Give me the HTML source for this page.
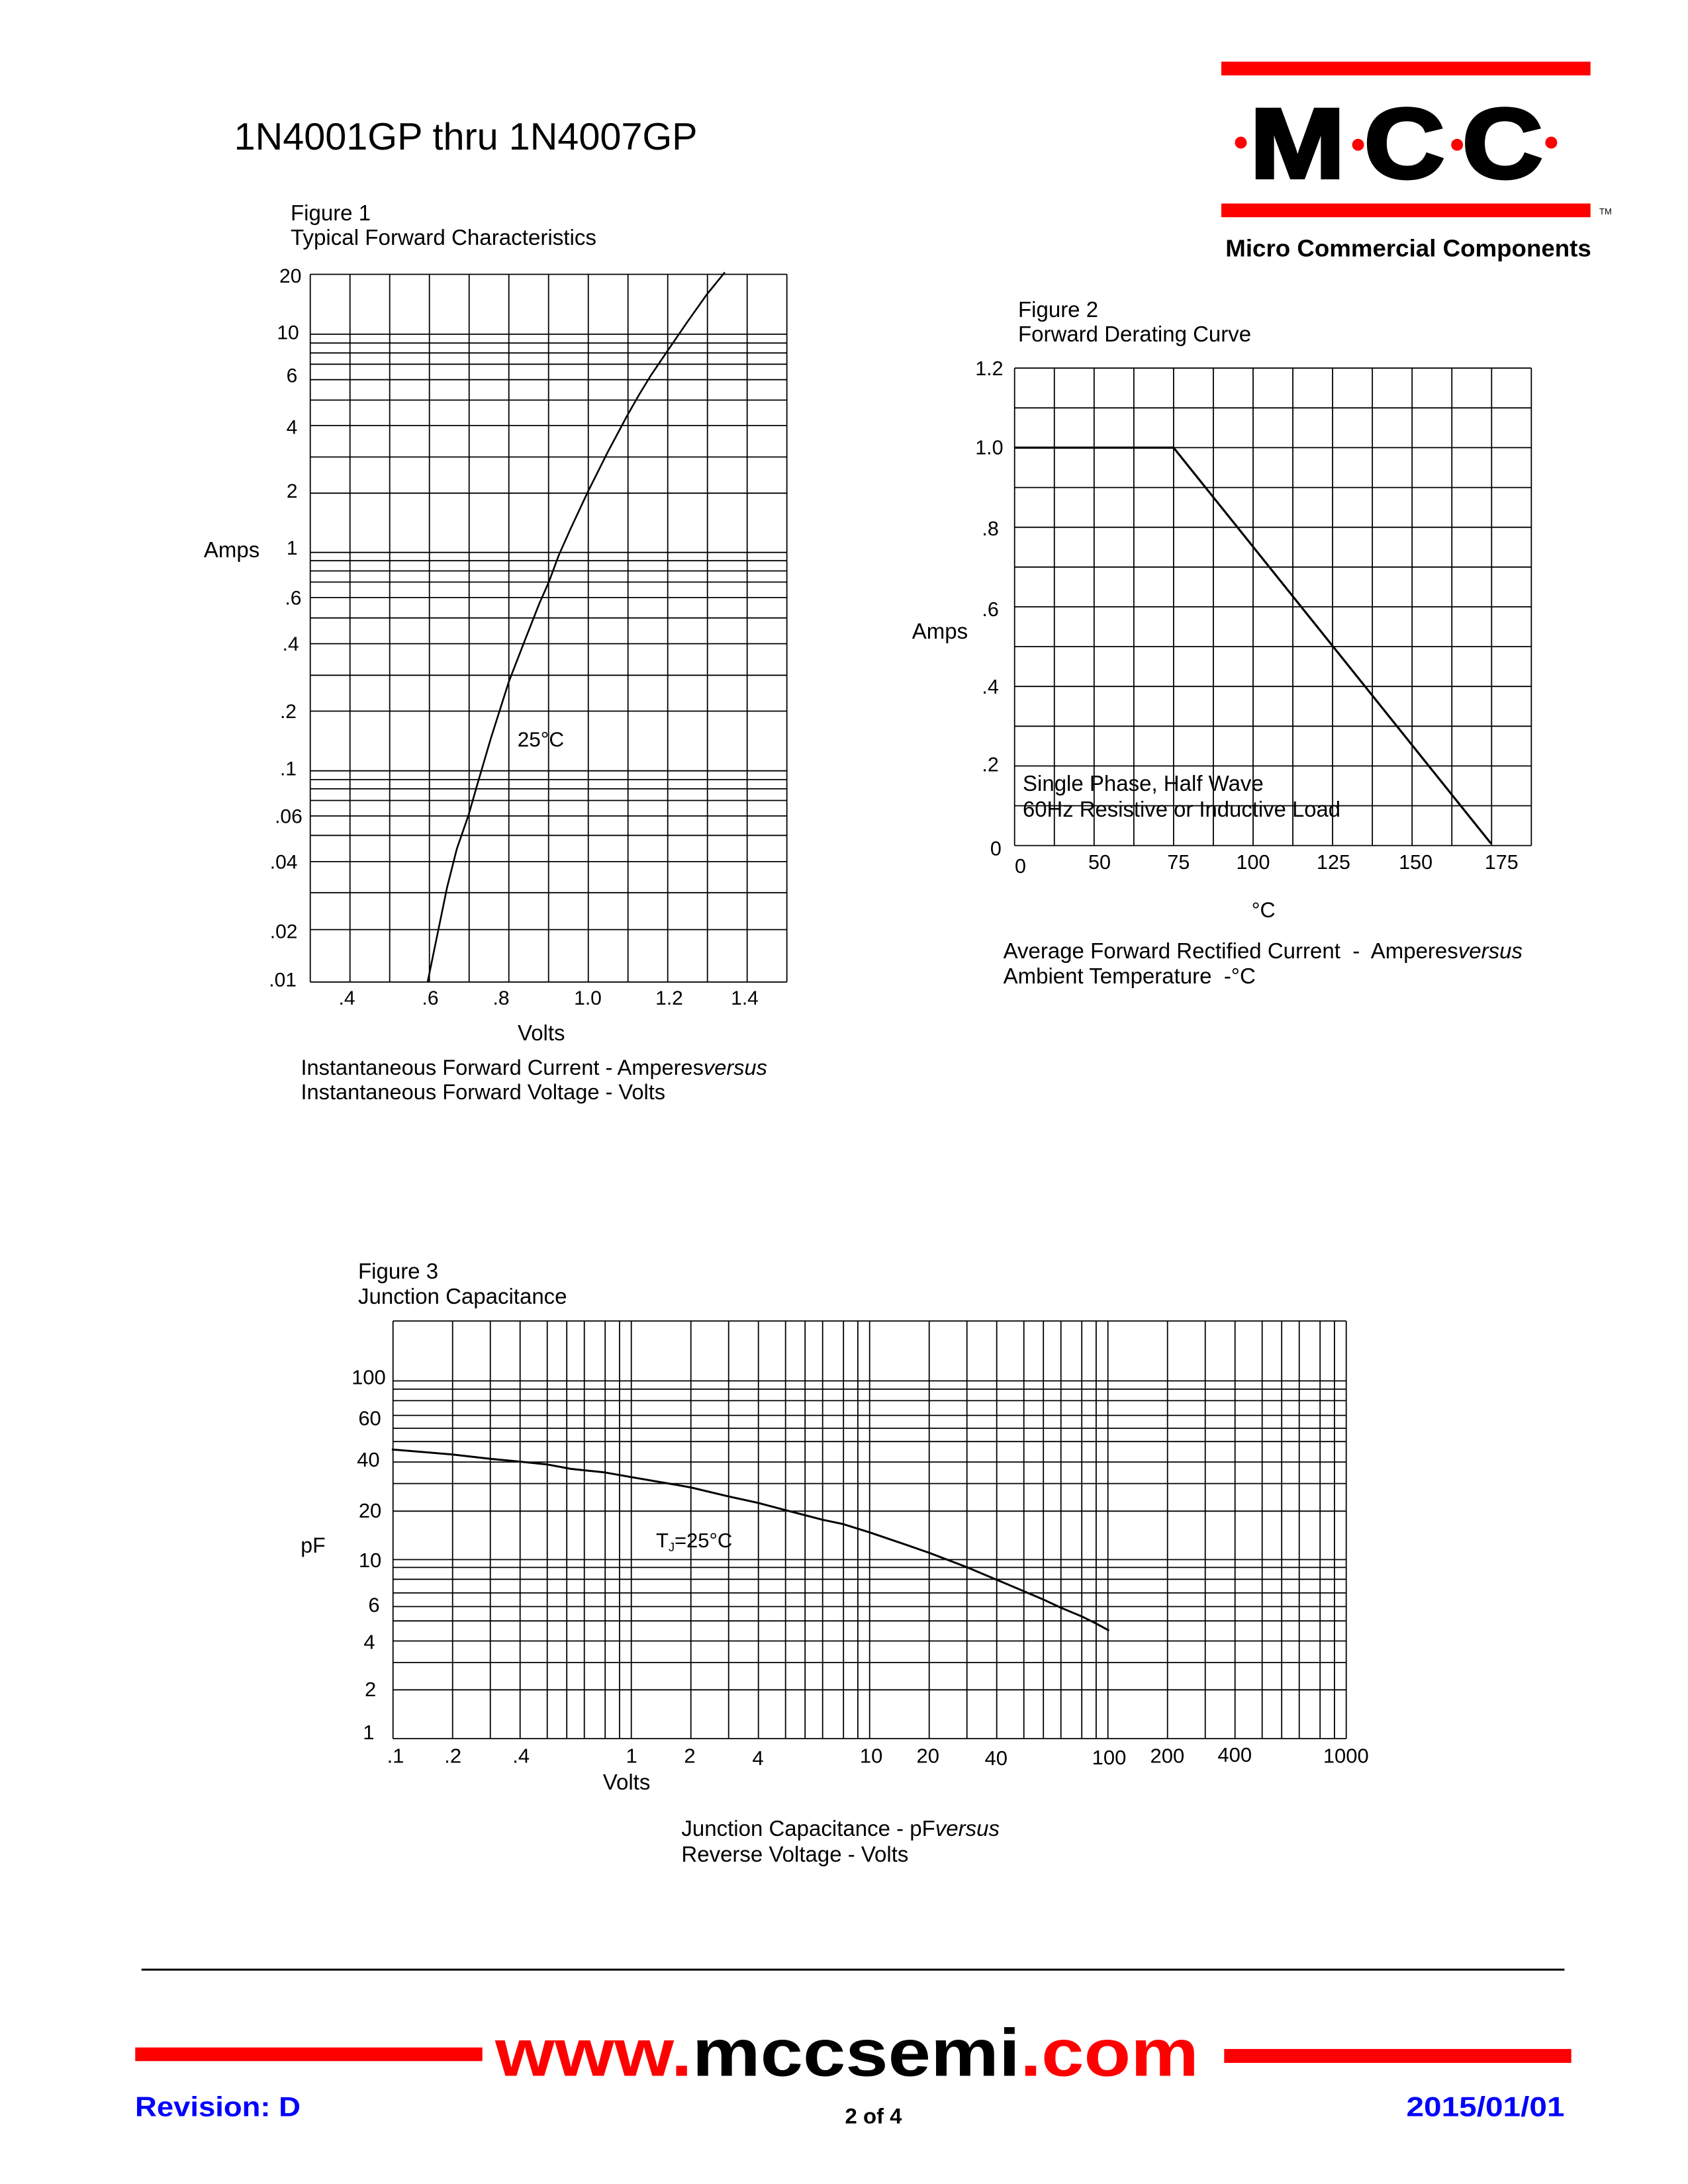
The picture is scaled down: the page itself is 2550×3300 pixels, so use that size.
<!DOCTYPE html>
<html>
<head>
<meta charset="utf-8">
<style>
html,body{margin:0;padding:0;background:#fff;}
svg{display:block;}
text{font-family:"Liberation Sans",Arial,sans-serif;fill:#000;}
.pre{white-space:pre;}
</style>
</head>
<body>
<svg xmlns="http://www.w3.org/2000/svg" width="2550" height="3300" viewBox="0 0 2550 3300">
<rect x="0" y="0" width="2550" height="3300" fill="#fff"/>

<!-- Title -->
<text x="353.6" y="226" font-size="57.5" textLength="700" lengthAdjust="spacingAndGlyphs">1N4001GP thru 1N4007GP</text>

<!-- MCC Logo -->
<rect x="1845" y="93.2" width="557.7" height="20.7" fill="#ff0000"/>
<rect x="1845" y="307.5" width="557.7" height="20.7" fill="#ff0000"/>
<g font-weight="bold" font-size="150" stroke="#000" stroke-width="5">
<text transform="translate(1960,268.5) scale(1.15,1)" text-anchor="middle">M</text>
<text transform="translate(2121.5,268.5) scale(1.12,1)" text-anchor="middle">C</text>
<text transform="translate(2269.7,268.5) scale(1.12,1)" text-anchor="middle">C</text>
</g>
<circle cx="1874.5" cy="215.5" r="9" fill="#ff0000"/>
<circle cx="2051.6" cy="218.8" r="9" fill="#ff0000"/>
<circle cx="2201.2" cy="218.8" r="9" fill="#ff0000"/>
<circle cx="2343.4" cy="215.5" r="9" fill="#ff0000"/>
<text x="2416" y="324" font-size="13">TM</text>
<text x="1851.3" y="387.5" font-size="36.5" font-weight="bold" textLength="552.5" lengthAdjust="spacingAndGlyphs">Micro Commercial Components</text>

<!-- ================= FIGURE 1 ================= -->
<text x="439" y="333" font-size="33">Figure 1</text>
<text x="439" y="370" font-size="33" textLength="462" lengthAdjust="spacingAndGlyphs">Typical Forward Characteristics</text>

<path fill="none" stroke="#000" stroke-width="1.8" d="
M468.7 414.5V1483.8 M528.7 414.5V1483.8 M588.7 414.5V1483.8 M648.7 414.5V1483.8
M708.7 414.5V1483.8 M768.7 414.5V1483.8 M828.7 414.5V1483.8 M888.7 414.5V1483.8
M948.7 414.5V1483.8 M1008.7 414.5V1483.8 M1068.7 414.5V1483.8 M1128.7 414.5V1483.8
M1188.7 414.5V1483.8
M468.7 414.5H1188.7 M468.7 505H1188.7 M468.7 518.3H1188.7 M468.7 533.3H1188.7
M468.7 550.3H1188.7 M468.7 573.7H1188.7 M468.7 604.5H1188.7 M468.7 643H1188.7
M468.7 690.5H1188.7 M468.7 745.2H1188.7 M468.7 834.7H1188.7 M468.7 847.2H1188.7
M468.7 862.6H1188.7 M468.7 879.5H1188.7 M468.7 902.9H1188.7 M468.7 933.7H1188.7
M468.7 972.6H1188.7 M468.7 1020.3H1188.7 M468.7 1074.5H1188.7 M468.7 1164.7H1188.7
M468.7 1178H1188.7 M468.7 1191.9H1188.7 M468.7 1209.5H1188.7 M468.7 1232.9H1188.7
M468.7 1262.3H1188.7 M468.7 1301.9H1188.7 M468.7 1348.8H1188.7 M468.7 1404.6H1188.7
M468.7 1483.8H1188.7"/>

<polyline fill="none" stroke="#000" stroke-width="2.6" stroke-linejoin="round" points="646.0,1483.8 675.4,1340.8 690,1283 708,1231 719.4,1191 741.4,1116 768.7,1030 792.7,968 814.7,912 829.4,878.7 844.1,839 862.4,798.0 888.1,743.0 917.4,684.4 946.7,629.4 965.1,597 983.4,567.0 1008.3,530.3 1038.4,486.3 1067.7,445 1094.9,411.5"/>

<g font-size="30">
<text x="455.4" y="427" text-anchor="end">20</text>
<text x="451.7" y="512.5" text-anchor="end">10</text>
<text x="449.3" y="577.5" text-anchor="end">6</text>
<text x="449.3" y="655.7" text-anchor="end">4</text>
<text x="449.5" y="752" text-anchor="end">2</text>
<text x="449.5" y="838" text-anchor="end">1</text>
<text x="455.4" y="913.5" text-anchor="end">.6</text>
<text x="451.7" y="983" text-anchor="end">.4</text>
<text x="448" y="1085" text-anchor="end">.2</text>
<text x="448" y="1171.5" text-anchor="end">.1</text>
<text x="456.8" y="1243.5" text-anchor="end">.06</text>
<text x="449.5" y="1312.5" text-anchor="end">.04</text>
<text x="449.5" y="1417.5" text-anchor="end">.02</text>
<text x="448" y="1490.5" text-anchor="end">.01</text>

<text x="524" y="1518" text-anchor="middle">.4</text>
<text x="650" y="1518" text-anchor="middle">.6</text>
<text x="757" y="1518" text-anchor="middle">.8</text>
<text x="888" y="1518" text-anchor="middle">1.0</text>
<text x="1011" y="1518" text-anchor="middle">1.2</text>
<text x="1125" y="1518" text-anchor="middle">1.4</text>
</g>
<text x="307.9" y="842" font-size="33">Amps</text>
<text x="781.7" y="1128" font-size="31.5">25°C</text>
<text x="782" y="1572" font-size="33">Volts</text>
<text x="454.5" y="1624" font-size="32.6">Instantaneous Forward Current - Amperes<tspan font-style="italic">versus</tspan></text>
<text x="454.5" y="1661" font-size="32.6">Instantaneous Forward Voltage - Volts</text>

<!-- ================= FIGURE 2 ================= -->
<text x="1538" y="479" font-size="33">Figure 2</text>
<text x="1538" y="516" font-size="33">Forward Derating Curve</text>

<path fill="none" stroke="#000" stroke-width="1.8" d="
M1532.7 556.2V1277.6 M1592.75 556.2V1277.6 M1652.8 556.2V1277.6 M1712.85 556.2V1277.6
M1772.9 556.2V1277.6 M1832.95 556.2V1277.6 M1893 556.2V1277.6 M1953.05 556.2V1277.6
M2013.1 556.2V1277.6 M2073.15 556.2V1277.6 M2133.2 556.2V1277.6 M2193.25 556.2V1277.6
M2253.3 556.2V1277.6 M2313.35 556.2V1277.6
M1532.7 556.2H2313.35 M1532.7 616.3H2313.35 M1532.7 676.4H2313.35 M1532.7 736.6H2313.35
M1532.7 796.7H2313.35 M1532.7 856.8H2313.35 M1532.7 916.9H2313.35 M1532.7 977H2313.35
M1532.7 1037.2H2313.35 M1532.7 1097.3H2313.35 M1532.7 1157.4H2313.35 M1532.7 1217.5H2313.35
M1532.7 1277.6H2313.35"/>

<polyline fill="none" stroke="#000" stroke-width="3.2" stroke-linejoin="miter" points="1532.7,676.4 1772.9,676.4 2252.6,1274.8"/>

<g font-size="30.5">
<text x="1515.6" y="567" text-anchor="end">1.2</text>
<text x="1515.6" y="686.5" text-anchor="end">1.0</text>
<text x="1508.8" y="809" text-anchor="end">.8</text>
<text x="1508.8" y="931" text-anchor="end">.6</text>
<text x="1508.8" y="1048" text-anchor="end">.4</text>
<text x="1508.8" y="1165.5" text-anchor="end">.2</text>
<text x="1512.9" y="1292.5" text-anchor="end">0</text>

<text x="1541.5" y="1319" text-anchor="middle">0</text>
<text x="1661" y="1313" text-anchor="middle">50</text>
<text x="1780.4" y="1313" text-anchor="middle">75</text>
<text x="1893" y="1313" text-anchor="middle">100</text>
<text x="2014.5" y="1313" text-anchor="middle">125</text>
<text x="2138.6" y="1313" text-anchor="middle">150</text>
<text x="2268.3" y="1313" text-anchor="middle">175</text>
</g>
<text x="1377.8" y="965" font-size="33">Amps</text>
<text x="1908.7" y="1386" font-size="32" text-anchor="middle">°C</text>
<text x="1545" y="1195" font-size="33">Single Phase, Half Wave</text>
<text x="1545" y="1234" font-size="33" textLength="480" lengthAdjust="spacingAndGlyphs">60Hz Resistive or Inductive Load</text>
<text class="pre" x="1515.6" y="1448" font-size="33" xml:space="preserve">Average Forward Rectified Current  -  Amperes<tspan font-style="italic">versus</tspan></text>
<text class="pre" x="1515.6" y="1486" font-size="33" xml:space="preserve">Ambient Temperature  -°C</text>

<!-- ================= FIGURE 3 ================= -->
<text x="541" y="1932" font-size="33">Figure 3</text>
<text x="541" y="1970" font-size="33">Junction Capacitance</text>

<path fill="none" stroke="#000" stroke-width="1.8" d="
M593.7 1996V2627 M683.7 1996V2627 M740.7 1996V2627 M785.7 1996V2627 M826.7 1996V2627
M856.2 1996V2627 M882.7 1996V2627 M914.2 1996V2627 M935.9 1996V2627
M953.7 1996V2627 M1043.7 1996V2627 M1100.7 1996V2627 M1145.7 1996V2627 M1186.7 1996V2627
M1216.2 1996V2627 M1242.7 1996V2627 M1274.2 1996V2627 M1295.9 1996V2627
M1313.7 1996V2627 M1403.7 1996V2627 M1460.7 1996V2627 M1505.7 1996V2627 M1546.7 1996V2627
M1576.2 1996V2627 M1602.7 1996V2627 M1634.2 1996V2627 M1655.9 1996V2627
M1673.7 1996V2627 M1763.7 1996V2627 M1820.7 1996V2627 M1865.7 1996V2627 M1906.7 1996V2627
M1936.2 1996V2627 M1962.7 1996V2627 M1994.2 1996V2627 M2015.9 1996V2627
M2033.7 1996V2627
M593.7 1996H2033.7 M593.7 2086.5H2033.7 M593.7 2099H2033.7 M593.7 2116.4H2033.7
M593.7 2138.6H2033.7 M593.7 2158.1H2033.7 M593.7 2178.2H2033.7 M593.7 2209.1H2033.7
M593.7 2241.6H2033.7 M593.7 2283.3H2033.7 M593.7 2356.5H2033.7 M593.7 2368.4H2033.7
M593.7 2386.3H2033.7 M593.7 2406.9H2033.7 M593.7 2427.5H2033.7 M593.7 2449.2H2033.7
M593.7 2479.5H2033.7 M593.7 2512.1H2033.7 M593.7 2553.3H2033.7 M593.7 2627H2033.7"/>

<polyline fill="none" stroke="#000" stroke-width="3" stroke-linejoin="round" points="592.0,2190.1 683.6,2197.7 740.6,2204.2 785.0,2208.5 826.8,2212.8 862.0,2219.4 913.5,2224.8 953.1,2231.8 1019.2,2243.2 1043.6,2247.5 1100.5,2261.1 1145.5,2270.9 1186.2,2281.7 1242.5,2296.3 1273.3,2302.8 1313.4,2315.3 1369.3,2334.3 1403.4,2346.2 1460.3,2367.9 1505.3,2386.9 1546.5,2404.2 1575.8,2416.7 1602.4,2429.1 1633.8,2442.2 1655.5,2453.0 1675.5,2463.8"/>

<g font-size="31">
<text x="582.8" y="2091.5" text-anchor="end">100</text>
<text x="575.8" y="2153.5" text-anchor="end">60</text>
<text x="573.6" y="2216" text-anchor="end">40</text>
<text x="576.3" y="2293" text-anchor="end">20</text>
<text x="576.3" y="2368" text-anchor="end">10</text>
<text x="573.6" y="2435.5" text-anchor="end">6</text>
<text x="566.6" y="2491.5" text-anchor="end">4</text>
<text x="568.2" y="2563" text-anchor="end">2</text>
<text x="565.5" y="2628" text-anchor="end">1</text>

<text x="597.5" y="2663.5" text-anchor="middle">.1</text>
<text x="684.2" y="2663.5" text-anchor="middle">.2</text>
<text x="787.2" y="2663.5" text-anchor="middle">.4</text>
<text x="954.1" y="2663.5" text-anchor="middle">1</text>
<text x="1042" y="2663.5" text-anchor="middle">2</text>
<text x="1145" y="2667" text-anchor="middle">4</text>
<text x="1316.1" y="2663.5" text-anchor="middle">10</text>
<text x="1401.8" y="2663.5" text-anchor="middle">20</text>
<text x="1504.8" y="2667" text-anchor="middle">40</text>
<text x="1675.5" y="2666" text-anchor="middle">100</text>
<text x="1763.4" y="2663.5" text-anchor="middle">200</text>
<text x="1865.3" y="2662" text-anchor="middle">400</text>
<text x="2033.3" y="2663.5" text-anchor="middle">1000</text>
</g>
<text x="454.3" y="2346" font-size="32">pF</text>
<text x="991" y="2338" font-size="31">T<tspan font-size="18" dy="6">J</tspan><tspan dy="-6">=25°C</tspan></text>
<text x="910.8" y="2704" font-size="33">Volts</text>
<text x="1029.4" y="2774" font-size="33">Junction Capacitance - pF<tspan font-style="italic">versus</tspan></text>
<text x="1029.4" y="2813" font-size="33">Reverse Voltage - Volts</text>

<!-- ================= FOOTER ================= -->
<rect x="213.8" y="2974.6" width="2149.6" height="3" fill="#000"/>
<rect x="204.3" y="3093.7" width="524.4" height="20.6" fill="#ff0000"/>
<rect x="1849.3" y="3096" width="524.4" height="21" fill="#ff0000"/>
<text x="748" y="3136.7" font-size="101" font-weight="bold" textLength="1063" lengthAdjust="spacingAndGlyphs"><tspan fill="#ff0000">www.</tspan><tspan fill="#000">mccsemi</tspan><tspan fill="#ff0000">.com</tspan></text>
<text x="204" y="3197.3" font-size="41.5" font-weight="bold" fill="#0000ff" style="fill:#0000ff" textLength="250" lengthAdjust="spacingAndGlyphs">Revision: D</text>
<text x="1276.5" y="3208.3" font-size="32" font-weight="bold" textLength="86" lengthAdjust="spacingAndGlyphs">2 of 4</text>
<text x="2124.5" y="3197.3" font-size="41.5" font-weight="bold" fill="#0000ff" style="fill:#0000ff" textLength="239" lengthAdjust="spacingAndGlyphs">2015/01/01</text>
</svg>
</body>
</html>
